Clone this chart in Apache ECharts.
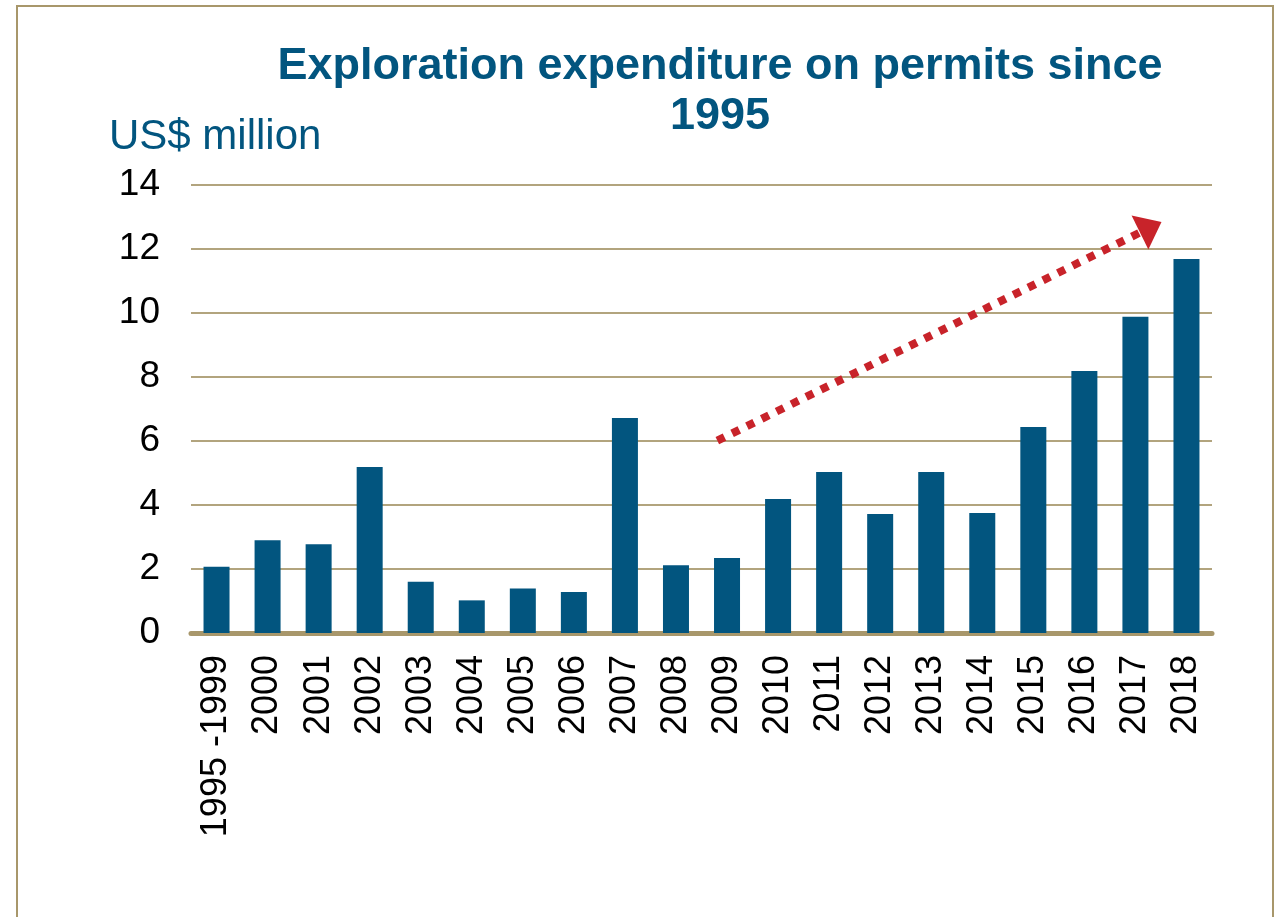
<!DOCTYPE html>
<html>
<head>
<meta charset="utf-8">
<title>Exploration expenditure on permits since 1995</title>
<script src="https://cdn.jsdelivr.net/npm/echarts@6/dist/echarts.min.js"></script>
<style>
  html, body { margin: 0; padding: 0; background: #fff; }
  #chart { width: 1281px; height: 917px; }
</style>
</head>
<body>
<div id="chart"></div>
<script>
// Years (first bar groups 1995-1999)
const categories = ['1995 -1999', '2000', '2001', '2002', '2003', '2004', '2005', '2006', '2007', '2008',
    '2009', '2010', '2011', '2012', '2013', '2014', '2015', '2016', '2017', '2018'];
// US$ million
const expenditure = [2.07, 2.9, 2.77, 5.19, 1.6, 1.02, 1.39, 1.28, 6.72, 2.12,
    2.34, 4.19, 5.03, 3.72, 5.03, 3.75, 6.44, 8.19, 9.88, 11.69];
const yTicks = { min: 0, max: 14, interval: 2 };
// trend arrow, [category position, value]
const arrowFrom = [9.81, 6.01];
const arrowTo = [18.3, 12.68];

const blue = '#02557f';
const tan = '#a8976b';
const font = '"Liberation Sans", Arial, sans-serif';

const chart = echarts.init(document.getElementById('chart'));

const option = {
    backgroundColor: '#fff',
    animation: false,
    title: [
        {
            text: 'Exploration expenditure on permits since\n1995',
            left: 715,
            top: 37,
            textAlign: 'center',
            textStyle: { color: blue, fontFamily: font, fontSize: 45, fontWeight: 'bold', lineHeight: 50 }
        },
        {
            text: 'US$ million',
            left: 104,
            top: 111,
            textStyle: { color: blue, fontFamily: font, fontSize: 42, fontWeight: 'normal' }
        }
    ],
    graphic: [
        {
            type: 'rect',
            shape: { x: 17, y: 6, width: 1256, height: 1000 },
            style: { fill: 'none', stroke: tan, lineWidth: 2 },
            silent: true
        }
    ],
    grid: { left: 191, right: 69, top: 185, bottom: 284 },
    xAxis: [
        {
            type: 'category',
            data: categories,
            axisTick: { show: false },
            axisLine: { lineStyle: { color: tan, width: 5 } },
            axisLabel: { rotate: 90, margin: 22, color: '#000', fontFamily: font, fontSize: 36, interval: 0 }
        },
        {
            type: 'value',
            min: -0.5,
            max: categories.length - 0.5,
            show: false
        }
    ],
    yAxis: {
        type: 'value',
        min: yTicks.min,
        max: yTicks.max,
        interval: yTicks.interval,
        axisLine: { show: false },
        axisTick: { show: false },
        axisLabel: { margin: 31, color: '#000', fontFamily: font, fontSize: 37 },
        splitLine: { lineStyle: { color: '#b2a47e', width: 2 } }
    },
    series: [
        {
            type: 'bar',
            data: expenditure,
            barWidth: 26,
            itemStyle: { color: blue },
            silent: true
        },
        {
            type: 'line',
            xAxisIndex: 1,
            data: [],
            silent: true,
            markLine: {
                silent: true,
                symbol: ['none', 'triangle'],
                symbolSize: [38, 24],
                label: { show: false },
                lineStyle: { color: '#c8232a', width: 8, type: [8, 8.5], cap: 'butt' },
                itemStyle: { color: '#c8232a' },
                data: [[{ coord: arrowFrom }, { coord: arrowTo }]]
            }
        }
    ]
};

chart.setOption(option);
</script>
</body>
</html>
